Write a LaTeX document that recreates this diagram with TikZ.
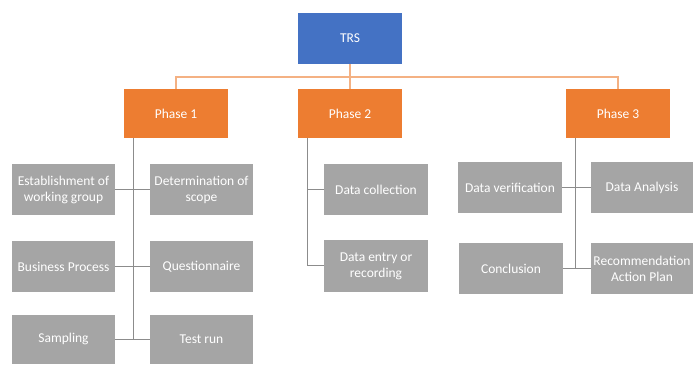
\documentclass[tikz,border=0pt]{standalone}
\usepackage{fontspec}
\setmainfont{Carlito}
\definecolor{trsblue}{HTML}{4472C4}
\definecolor{phorange}{HTML}{ED7D31}
\definecolor{lorange}{HTML}{F4B183}
\definecolor{boxgray}{HTML}{A5A5A5}
\definecolor{linegray}{HTML}{8C8C8C}
\begin{document}
\begin{tikzpicture}[x=1pt,y=-1pt,
  base/.style={inner sep=0pt, align=center, text=white, font=\fontsize{13.5}{16}\selectfont},
  topbox/.style={base, fill=trsblue, minimum width=104pt, minimum height=51pt},
  phasebox/.style={base, fill=phorange, minimum width=104pt, minimum height=49pt},
  itembox/.style={base, fill=boxgray, minimum width=103pt, minimum height=51pt},
  busline/.style={draw=lorange, line width=1.6pt},
  subline/.style={draw=linegray, line width=0.8pt}]
\useasboundingbox (0,0) rectangle (693,364);
\clip (0,0) rectangle (693,364);
% top
\node[topbox] (trs) at (350,38.5) {TRS};
\node[phasebox] (p1) at (176,113.5) {Phase 1};
\node[phasebox] (p2) at (350,113.5) {Phase 2};
\node[phasebox] (p3) at (618,113.5) {Phase 3};
\coordinate (bus) at (350,77);
\draw[busline] (trs.south) -- (bus);
\draw[busline] (bus) -| (p1.north);
\draw[busline] (bus) -- (p2.north);
\draw[busline] (bus) -| (p3.north);
% phase 1 items
\node[itembox] (est) at (63.5,189.5) {Establishment of\\working group};
\node[itembox] (det) at (201.5,189.5) {Determination of\\scope};
\node[itembox] (bus1) at (63.5,266.5) {Business Process};
\node[itembox] (que) at (201.5,266.5) {Questionnaire};
\node[itembox, minimum height=49pt] (sam) at (63.5,339) {Sampling};
\node[itembox, minimum height=49pt] (tst) at (201.5,339) {Test run};
\coordinate (p1top) at (133,138);
\coordinate (p1bot) at (133,339);
\draw[subline] (p1top) -- (p1bot);
\draw[subline] (est.east) -- (det.west);
\draw[subline] (bus1.east) -- (que.west);
\draw[subline] (sam.east) -- (tst.west);
% phase 2 items
\node[itembox, minimum width=104pt] (dc) at (376,189.5) {Data collection};
\node[itembox, minimum width=104pt, minimum height=52pt] (de) at (376,266) {Data entry or\\recording};
\coordinate (p2top) at (307,138);
\coordinate (p2a) at (307,189.5);
\coordinate (p2b) at (307,265);
\draw[subline] (p2top) -- (p2b) -- (de.west |- p2b);
\draw[subline] (p2a) -- (dc.west);
% phase 3 items
\node[itembox, minimum width=104pt] (dv) at (510,187.5) {Data verification};
\node[itembox, minimum width=102pt] (da) at (642,187.5) {Data Analysis};
\node[itembox, minimum width=104pt] (con) at (511,268.5) {Conclusion};
\node[itembox, minimum width=102pt] (rec) at (642,268.5) {Recommendation\\Action Plan};
\coordinate (p3top) at (575,138);
\coordinate (p3bot) at (575,268.5);
\draw[subline] (p3top) -- (p3bot);
\draw[subline] (dv.east) -- (da.west);
\draw[subline] (con.east) -- (rec.west);
\end{tikzpicture}
\end{document}
